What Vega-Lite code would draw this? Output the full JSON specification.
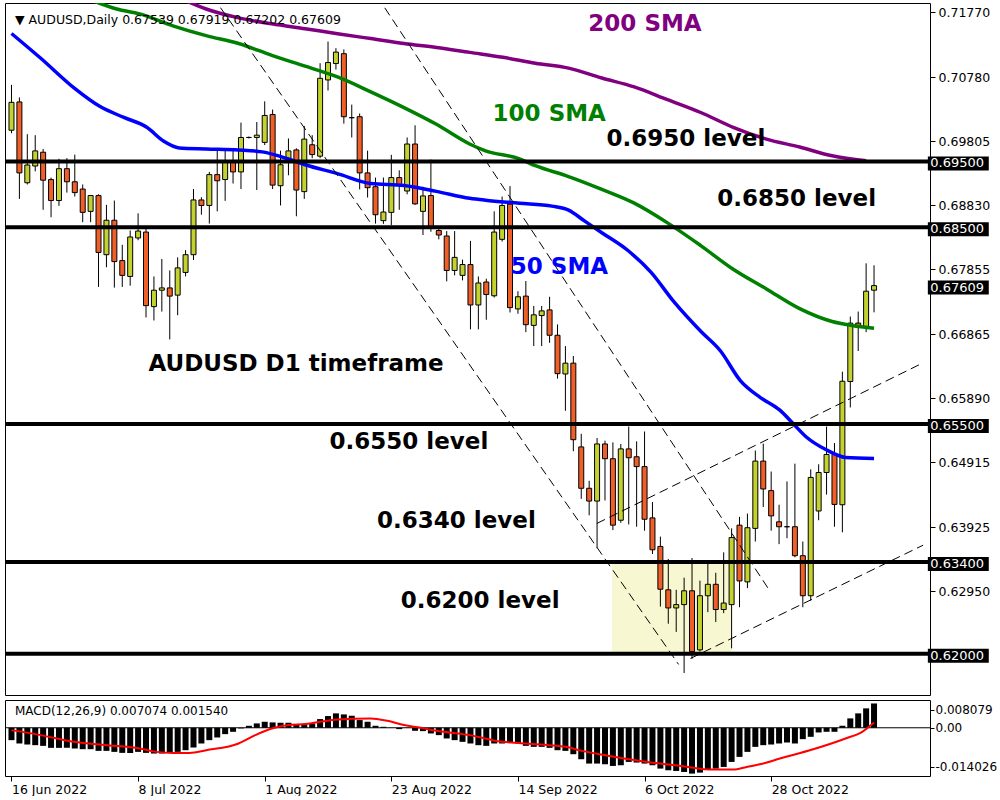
{
  "$schema": "https://vega.github.io/schema/vega-lite/v6.json",
  "background": "white",
  "padding": {"left": 2, "top": 2, "right": 0, "bottom": 0},
  "spacing": 3,
  "config": {
    "view": {"stroke": "#000000", "strokeWidth": 1},
    "axis": {"labelFont": "DejaVu Sans", "labelFontSize": 12.5, "labelColor": "#000000", "tickColor": "#000000", "domain": false, "grid": false, "tickSize": 5, "labelPadding": 3},
    "text": {"font": "DejaVu Sans"}
  },
  "datasets": {
    "candles": [
      {"i":0,"o":0.69976,"h":0.70667,"l":0.6993,"c":0.70401},
      {"i":1,"o":0.70407,"h":0.70476,"l":0.6893,"c":0.69326},
      {"i":2,"o":0.69176,"h":0.69916,"l":0.6915,"c":0.69446},
      {"i":3,"o":0.69431,"h":0.69901,"l":0.6935,"c":0.69661},
      {"i":4,"o":0.69641,"h":0.69691,"l":0.68764,"c":0.69215},
      {"i":5,"o":0.69225,"h":0.69255,"l":0.6865,"c":0.68905},
      {"i":6,"o":0.68905,"h":0.69541,"l":0.68824,"c":0.6939},
      {"i":7,"o":0.6939,"h":0.69551,"l":0.69026,"c":0.69191},
      {"i":8,"o":0.69191,"h":0.69605,"l":0.68966,"c":0.69026},
      {"i":9,"o":0.6908,"h":0.6915,"l":0.68575,"c":0.68725},
      {"i":10,"o":0.6874,"h":0.6899,"l":0.68575,"c":0.68981},
      {"i":11,"o":0.68981,"h":0.69,"l":0.67589,"c":0.68114},
      {"i":12,"o":0.6808,"h":0.68839,"l":0.67889,"c":0.68605},
      {"i":13,"o":0.68605,"h":0.68905,"l":0.67578,"c":0.67975},
      {"i":14,"o":0.6799,"h":0.6823,"l":0.67589,"c":0.67765},
      {"i":15,"o":0.67749,"h":0.68449,"l":0.67608,"c":0.6835},
      {"i":16,"o":0.68335,"h":0.6871,"l":0.683,"c":0.6844},
      {"i":17,"o":0.68425,"h":0.68515,"l":0.67124,"c":0.67304},
      {"i":18,"o":0.67289,"h":0.67749,"l":0.67078,"c":0.67539},
      {"i":19,"o":0.67539,"h":0.68014,"l":0.67214,"c":0.67574},
      {"i":20,"o":0.67574,"h":0.6784,"l":0.66789,"c":0.67449},
      {"i":21,"o":0.67464,"h":0.68039,"l":0.67158,"c":0.67879},
      {"i":22,"o":0.6781,"h":0.6815,"l":0.6775,"c":0.6808},
      {"i":23,"o":0.6808,"h":0.6908,"l":0.67999,"c":0.68914},
      {"i":24,"o":0.68914,"h":0.68956,"l":0.68689,"c":0.6883},
      {"i":25,"o":0.6883,"h":0.69341,"l":0.68554,"c":0.693},
      {"i":26,"o":0.693,"h":0.69665,"l":0.6874,"c":0.69206},
      {"i":27,"o":0.69225,"h":0.69665,"l":0.689,"c":0.69515},
      {"i":28,"o":0.69515,"h":0.69665,"l":0.69165,"c":0.69341},
      {"i":29,"o":0.69341,"h":0.70092,"l":0.6908,"c":0.69866},
      {"i":30,"o":0.69866,"h":0.6988,"l":0.6985,"c":0.69866},
      {"i":31,"o":0.69866,"h":0.70101,"l":0.69065,"c":0.69901},
      {"i":32,"o":0.69791,"h":0.70416,"l":0.6975,"c":0.70201},
      {"i":33,"o":0.70216,"h":0.70291,"l":0.6908,"c":0.6914},
      {"i":34,"o":0.69131,"h":0.69665,"l":0.6883,"c":0.6945},
      {"i":35,"o":0.69515,"h":0.69851,"l":0.6929,"c":0.69661},
      {"i":36,"o":0.69676,"h":0.69701,"l":0.68665,"c":0.69065},
      {"i":37,"o":0.69041,"h":0.7004,"l":0.6893,"c":0.69841},
      {"i":38,"o":0.69755,"h":0.69901,"l":0.6955,"c":0.69605},
      {"i":39,"o":0.69581,"h":0.70997,"l":0.6955,"c":0.70767},
      {"i":40,"o":0.70742,"h":0.71327,"l":0.70581,"c":0.71007},
      {"i":41,"o":0.70992,"h":0.71226,"l":0.709,"c":0.71166},
      {"i":42,"o":0.71142,"h":0.71207,"l":0.70077,"c":0.70182},
      {"i":43,"o":0.70167,"h":0.70366,"l":0.69866,"c":0.70167},
      {"i":44,"o":0.70182,"h":0.70231,"l":0.69075,"c":0.69326},
      {"i":45,"o":0.69326,"h":0.69665,"l":0.68951,"c":0.69101},
      {"i":46,"o":0.69116,"h":0.69255,"l":0.68554,"c":0.68689},
      {"i":47,"o":0.68599,"h":0.69255,"l":0.6855,"c":0.6873},
      {"i":48,"o":0.68725,"h":0.69601,"l":0.6853,"c":0.69255},
      {"i":49,"o":0.69255,"h":0.69365,"l":0.68764,"c":0.6914},
      {"i":50,"o":0.6905,"h":0.69866,"l":0.69,"c":0.69766},
      {"i":51,"o":0.69766,"h":0.70051,"l":0.68839,"c":0.68854},
      {"i":52,"o":0.6874,"h":0.69116,"l":0.6838,"c":0.68975},
      {"i":53,"o":0.68981,"h":0.6953,"l":0.6843,"c":0.68479},
      {"i":54,"o":0.68449,"h":0.68479,"l":0.68314,"c":0.6838},
      {"i":55,"o":0.68365,"h":0.6844,"l":0.67674,"c":0.6784},
      {"i":56,"o":0.6784,"h":0.6844,"l":0.67765,"c":0.68039},
      {"i":57,"o":0.67765,"h":0.68005,"l":0.67689,"c":0.6793},
      {"i":58,"o":0.6793,"h":0.6829,"l":0.66943,"c":0.67314},
      {"i":59,"o":0.67314,"h":0.67749,"l":0.66943,"c":0.67649},
      {"i":60,"o":0.67664,"h":0.67714,"l":0.67089,"c":0.67473},
      {"i":61,"o":0.67454,"h":0.6874,"l":0.67428,"c":0.68425},
      {"i":62,"o":0.68314,"h":0.68966,"l":0.6828,"c":0.6883},
      {"i":63,"o":0.6885,"h":0.69125,"l":0.672,"c":0.67274},
      {"i":64,"o":0.67254,"h":0.67524,"l":0.6718,"c":0.67439},
      {"i":65,"o":0.67449,"h":0.67679,"l":0.669,"c":0.67014},
      {"i":66,"o":0.67003,"h":0.67299,"l":0.66688,"c":0.67164},
      {"i":67,"o":0.67153,"h":0.67299,"l":0.66688,"c":0.67224},
      {"i":68,"o":0.67239,"h":0.67439,"l":0.66738,"c":0.66853},
      {"i":69,"o":0.66853,"h":0.67018,"l":0.66193,"c":0.66268},
      {"i":70,"o":0.66263,"h":0.66688,"l":0.65702,"c":0.66428},
      {"i":71,"o":0.66428,"h":0.66538,"l":0.65086,"c":0.65262},
      {"i":72,"o":0.65152,"h":0.65352,"l":0.64361,"c":0.64522},
      {"i":73,"o":0.64522,"h":0.64636,"l":0.6411,"c":0.64327},
      {"i":74,"o":0.64327,"h":0.65287,"l":0.6361,"c":0.65197},
      {"i":75,"o":0.65197,"h":0.65247,"l":0.64336,"c":0.64972},
      {"i":76,"o":0.64972,"h":0.65221,"l":0.63885,"c":0.6396},
      {"i":77,"o":0.64035,"h":0.65197,"l":0.63996,"c":0.65122},
      {"i":78,"o":0.65122,"h":0.65462,"l":0.63971,"c":0.64987},
      {"i":79,"o":0.65002,"h":0.65236,"l":0.63936,"c":0.64852},
      {"i":80,"o":0.64852,"h":0.65387,"l":0.63876,"c":0.6405},
      {"i":81,"o":0.64071,"h":0.64312,"l":0.6352,"c":0.63585},
      {"i":82,"o":0.63636,"h":0.63786,"l":0.6272,"c":0.62984},
      {"i":83,"o":0.62975,"h":0.63445,"l":0.62459,"c":0.62699},
      {"i":84,"o":0.62699,"h":0.62975,"l":0.62334,"c":0.6275},
      {"i":85,"o":0.6275,"h":0.6316,"l":0.61708,"c":0.6296},
      {"i":86,"o":0.6296,"h":0.6346,"l":0.61924,"c":0.62034},
      {"i":87,"o":0.6206,"h":0.63115,"l":0.62034,"c":0.62885},
      {"i":88,"o":0.62885,"h":0.63375,"l":0.62635,"c":0.63059},
      {"i":89,"o":0.63059,"h":0.63235,"l":0.62485,"c":0.62675},
      {"i":90,"o":0.62675,"h":0.63546,"l":0.6262,"c":0.62774},
      {"i":91,"o":0.6275,"h":0.63911,"l":0.62084,"c":0.63771},
      {"i":92,"o":0.6396,"h":0.64086,"l":0.6271,"c":0.6311},
      {"i":93,"o":0.63096,"h":0.64136,"l":0.63,"c":0.63921},
      {"i":94,"o":0.63911,"h":0.65097,"l":0.63711,"c":0.64936},
      {"i":95,"o":0.64936,"h":0.65202,"l":0.64236,"c":0.64511},
      {"i":96,"o":0.64486,"h":0.64777,"l":0.63876,"c":0.64101},
      {"i":97,"o":0.64011,"h":0.64271,"l":0.63671,"c":0.63936},
      {"i":98,"o":0.63936,"h":0.64627,"l":0.63761,"c":0.63936},
      {"i":99,"o":0.63936,"h":0.64897,"l":0.6347,"c":0.63495},
      {"i":100,"o":0.63495,"h":0.63711,"l":0.6271,"c":0.62885},
      {"i":101,"o":0.62885,"h":0.64811,"l":0.6281,"c":0.64687},
      {"i":102,"o":0.64176,"h":0.64887,"l":0.64035,"c":0.64762},
      {"i":103,"o":0.64762,"h":0.65462,"l":0.64426,"c":0.65037},
      {"i":104,"o":0.65037,"h":0.65212,"l":0.63936,"c":0.64276},
      {"i":105,"o":0.64271,"h":0.66298,"l":0.63851,"c":0.66152},
      {"i":106,"o":0.66148,"h":0.67138,"l":0.65753,"c":0.67038},
      {"i":107,"o":0.67038,"h":0.67214,"l":0.66613,"c":0.66988},
      {"i":108,"o":0.66988,"h":0.67949,"l":0.669,"c":0.67524},
      {"i":109,"o":0.67539,"h":0.67919,"l":0.67202,"c":0.67609}
    ],
    "ma": [
      {"ma":"50 SMA","i":0,"p":0.7145},{"ma":"50 SMA","i":3.7,"p":0.71072},{"ma":"50 SMA","i":7.9,"p":0.70621},{"ma":"50 SMA","i":11.2,"p":0.70336},{"ma":"50 SMA","i":14.2,"p":0.70171},{"ma":"50 SMA","i":17.1,"p":0.70021},{"ma":"50 SMA","i":19.2,"p":0.69811},{"ma":"50 SMA","i":21.2,"p":0.69706},{"ma":"50 SMA","i":24.6,"p":0.69691},{"ma":"50 SMA","i":28.7,"p":0.69676},{"ma":"50 SMA","i":31.7,"p":0.69646},{"ma":"50 SMA","i":34.9,"p":0.69541},{"ma":"50 SMA","i":37.1,"p":0.6945},{"ma":"50 SMA","i":41.2,"p":0.69315},{"ma":"50 SMA","i":45.4,"p":0.69165},{"ma":"50 SMA","i":49.6,"p":0.69135},{"ma":"50 SMA","i":53.7,"p":0.69045},{"ma":"50 SMA","i":57.9,"p":0.6894},{"ma":"50 SMA","i":59.9,"p":0.6891},{"ma":"50 SMA","i":64.2,"p":0.68865},{"ma":"50 SMA","i":68.3,"p":0.6882},{"ma":"50 SMA","i":70.4,"p":0.6876},{"ma":"50 SMA","i":72.4,"p":0.68595},{"ma":"50 SMA","i":74.6,"p":0.68415},{"ma":"50 SMA","i":77.9,"p":0.68144},{"ma":"50 SMA","i":80.8,"p":0.67814},{"ma":"50 SMA","i":83.7,"p":0.67364},{"ma":"50 SMA","i":87.1,"p":0.66913},{"ma":"50 SMA","i":89.6,"p":0.66613},{"ma":"50 SMA","i":92.1,"p":0.66163},{"ma":"50 SMA","i":94.6,"p":0.65908},{"ma":"50 SMA","i":97.1,"p":0.65712},{"ma":"50 SMA","i":98.7,"p":0.65517},{"ma":"50 SMA","i":100.4,"p":0.65307},{"ma":"50 SMA","i":102.9,"p":0.65112},{"ma":"50 SMA","i":105.4,"p":0.64992},{"ma":"50 SMA","i":109,"p":0.64977},
      {"ma":"100 SMA","i":10,"p":0.7196},{"ma":"100 SMA","i":13.3,"p":0.71823},{"ma":"100 SMA","i":16.2,"p":0.71748},{"ma":"100 SMA","i":20.4,"p":0.71567},{"ma":"100 SMA","i":24.6,"p":0.71417},{"ma":"100 SMA","i":28.7,"p":0.71297},{"ma":"100 SMA","i":32.9,"p":0.71117},{"ma":"100 SMA","i":37.1,"p":0.70952},{"ma":"100 SMA","i":41.2,"p":0.70787},{"ma":"100 SMA","i":45.4,"p":0.70561},{"ma":"100 SMA","i":49.6,"p":0.70321},{"ma":"100 SMA","i":53.7,"p":0.70066},{"ma":"100 SMA","i":57.9,"p":0.69766},{"ma":"100 SMA","i":59.9,"p":0.69661},{"ma":"100 SMA","i":64.2,"p":0.69541},{"ma":"100 SMA","i":66.2,"p":0.69436},{"ma":"100 SMA","i":70.4,"p":0.6927},{"ma":"100 SMA","i":74.6,"p":0.69075},{"ma":"100 SMA","i":78.7,"p":0.68865},{"ma":"100 SMA","i":82.9,"p":0.68565},{"ma":"100 SMA","i":87.1,"p":0.68219},{"ma":"100 SMA","i":91.2,"p":0.67859},{"ma":"100 SMA","i":95.4,"p":0.67559},{"ma":"100 SMA","i":99.6,"p":0.67259},{"ma":"100 SMA","i":103.7,"p":0.67063},{"ma":"100 SMA","i":106.2,"p":0.67003},{"ma":"100 SMA","i":109,"p":0.6696},
      {"ma":"200 SMA","i":22,"p":0.7195},{"ma":"200 SMA","i":24.6,"p":0.71823},{"ma":"200 SMA","i":28.7,"p":0.71688},{"ma":"200 SMA","i":32.9,"p":0.71597},{"ma":"200 SMA","i":37.1,"p":0.71522},{"ma":"200 SMA","i":41.2,"p":0.71447},{"ma":"200 SMA","i":45.4,"p":0.71372},{"ma":"200 SMA","i":49.6,"p":0.71297},{"ma":"200 SMA","i":53.7,"p":0.71237},{"ma":"200 SMA","i":57.9,"p":0.71162},{"ma":"200 SMA","i":62.1,"p":0.71087},{"ma":"200 SMA","i":66.2,"p":0.70997},{"ma":"200 SMA","i":70.4,"p":0.70922},{"ma":"200 SMA","i":74.6,"p":0.70772},{"ma":"200 SMA","i":78.7,"p":0.70636},{"ma":"200 SMA","i":82.9,"p":0.70441},{"ma":"200 SMA","i":87.1,"p":0.70246},{"ma":"200 SMA","i":91.2,"p":0.70021},{"ma":"200 SMA","i":95.4,"p":0.69841},{"ma":"200 SMA","i":99.6,"p":0.69721},{"ma":"200 SMA","i":103.7,"p":0.69586},{"ma":"200 SMA","i":108,"p":0.69511}
    ],
    "trend": [
      {"id":"A","i":25.4,"p":0.72018},{"id":"A","i":84.3,"p":0.61839},
      {"id":"B","i":46.2,"p":0.72018},{"id":"B","i":95.8,"p":0.62965},
      {"id":"C","i":73.97,"p":0.63986},{"id":"C","i":115.2,"p":0.66433},
      {"id":"D","i":85.8,"p":0.61929},{"id":"D","i":115.2,"p":0.63655}
    ],
    "levels": [{"p":0.695},{"p":0.685},{"p":0.655},{"p":0.634},{"p":0.62}],
    "boxes": [{"p":0.695},{"p":0.685},{"p":0.67609},{"p":0.655},{"p":0.634},{"p":0.62}],
    "notes": [
      {"t":"200 SMA","i":72.9,"p":0.71597,"g":"200 SMA"},
      {"t":"100 SMA","i":60.8,"p":0.70216,"g":"100 SMA"},
      {"t":"0.6950 level","i":75.2,"p":0.69841,"g":"note"},
      {"t":"0.6850 level","i":89.2,"p":0.68925,"g":"note"},
      {"t":"50 SMA","i":63.1,"p":0.67889,"g":"50 SMA"},
      {"t":"AUDUSD D1 timeframe","i":17.3,"p":0.66418,"g":"note"},
      {"t":"0.6550 level","i":40.2,"p":0.65232,"g":"note"},
      {"t":"0.6340 level","i":46.2,"p":0.64031,"g":"note"},
      {"t":"0.6200 level","i":49.2,"p":0.628,"g":"note"}
    ],
    "macd": [
      {"i":0,"m":-0.0036},{"i":1,"m":-0.00457},{"i":2,"m":-0.00487},{"i":3,"m":-0.00506},{"i":4,"m":-0.00526},{"i":5,"m":-0.00584},{"i":6,"m":-0.00584},{"i":7,"m":-0.00584},{"i":8,"m":-0.00603},{"i":9,"m":-0.00623},
      {"i":10,"m":-0.00623},{"i":11,"m":-0.00672},{"i":12,"m":-0.00672},{"i":13,"m":-0.00701},{"i":14,"m":-0.0073},{"i":15,"m":-0.0073},{"i":16,"m":-0.00701},{"i":17,"m":-0.0073},{"i":18,"m":-0.00749},{"i":19,"m":-0.00749},
      {"i":20,"m":-0.0073},{"i":21,"m":-0.00701},{"i":22,"m":-0.00652},{"i":23,"m":-0.00574},{"i":24,"m":-0.00457},{"i":25,"m":-0.0036},{"i":26,"m":-0.00282},{"i":27,"m":-0.00185},{"i":28,"m":-0.00117},{"i":29,"m":-0.00019},
      {"i":30,"m":0.00058},{"i":31,"m":0.00127},{"i":32,"m":0.00175},{"i":33,"m":0.00156},{"i":34,"m":0.00146},{"i":35,"m":0.00146},{"i":36,"m":0.00097},{"i":37,"m":0.00097},{"i":38,"m":0.00127},{"i":39,"m":0.00253},
      {"i":40,"m":0.00341},{"i":41,"m":0.00419},{"i":42,"m":0.00389},{"i":43,"m":0.0035},{"i":44,"m":0.00224},{"i":45,"m":0.00175},{"i":46,"m":0.00058},{"i":47,"m":0.00029},{"i":48,"m":0.00005},{"i":49,"m":-0.00039},
      {"i":50,"m":0.00005},{"i":51,"m":-0.00088},{"i":52,"m":-0.00097},{"i":53,"m":-0.00165},{"i":54,"m":-0.00214},{"i":55,"m":-0.00311},{"i":56,"m":-0.0036},{"i":57,"m":-0.00409},{"i":58,"m":-0.00457},{"i":59,"m":-0.00506},
      {"i":60,"m":-0.00526},{"i":61,"m":-0.00457},{"i":62,"m":-0.00457},{"i":63,"m":-0.00438},{"i":64,"m":-0.00457},{"i":65,"m":-0.00526},{"i":66,"m":-0.00555},{"i":67,"m":-0.00555},{"i":68,"m":-0.00584},{"i":69,"m":-0.00652},
      {"i":70,"m":-0.00672},{"i":71,"m":-0.00769},{"i":72,"m":-0.00915},{"i":73,"m":-0.01041},{"i":74,"m":-0.01041},{"i":75,"m":-0.01061},{"i":76,"m":-0.0111},{"i":77,"m":-0.0109},{"i":78,"m":-0.00993},{"i":79,"m":-0.01012},
      {"i":80,"m":-0.01041},{"i":81,"m":-0.0109},{"i":82,"m":-0.01187},{"i":83,"m":-0.01236},{"i":84,"m":-0.01256},{"i":85,"m":-0.01285},{"i":86,"m":-0.01333},{"i":87,"m":-0.01304},{"i":88,"m":-0.01207},{"i":89,"m":-0.01187},
      {"i":90,"m":-0.01139},{"i":91,"m":-0.00993},{"i":92,"m":-0.00847},{"i":93,"m":-0.00701},{"i":94,"m":-0.00555},{"i":95,"m":-0.00506},{"i":96,"m":-0.00487},{"i":97,"m":-0.00457},{"i":98,"m":-0.00428},{"i":99,"m":-0.00457},
      {"i":100,"m":-0.00331},{"i":101,"m":-0.00263},{"i":102,"m":-0.00136},{"i":103,"m":-0.00117},{"i":104,"m":-0.00117},{"i":105,"m":0.00058},{"i":106,"m":0.00273},{"i":107,"m":0.00419},{"i":108,"m":0.00565},{"i":109,"m":0.007074}
    ],
    "signal": [
      {"i":0,"s":-0.00068},{"i":3.7,"s":-0.00214},{"i":7.9,"s":-0.00409},{"i":12.1,"s":-0.00506},{"i":16.2,"s":-0.00603},{"i":18.3,"s":-0.00701},{"i":20.4,"s":-0.0073},{"i":22.5,"s":-0.0073},{"i":24.6,"s":-0.00652},{"i":28.7,"s":-0.00457},{"i":30.8,"s":-0.00214},{"i":32.9,"s":-0.00019},{"i":35,"s":0.00078},{"i":37.1,"s":0.00107},{"i":41.2,"s":0.00243},{"i":45.4,"s":0.00273},{"i":47.5,"s":0.00204},{"i":49.6,"s":0.00078},{"i":51.7,"s":0},{"i":53.7,"s":-0.00088},{"i":57.9,"s":-0.00214},{"i":62.1,"s":-0.00409},{"i":63.7,"s":-0.00438},{"i":67.9,"s":-0.00506},{"i":70,"s":-0.00555},{"i":72.1,"s":-0.00672},{"i":76.3,"s":-0.00847},{"i":80.4,"s":-0.00993},{"i":84.6,"s":-0.0111},{"i":88.7,"s":-0.01217},{"i":91.2,"s":-0.01217},{"i":92.9,"s":-0.01139},{"i":95,"s":-0.01041},{"i":97.1,"s":-0.00895},{"i":101.2,"s":-0.00633},{"i":105.4,"s":-0.00311},{"i":107.5,"s":-0.00117},{"i":109,"s":0.00154}
    ]
  },
  "vconcat": [
    {
      "width": 925,
      "height": 692,
      "layer": [
        {
          "data": {"values": [{"i":75.9,"i2":91.0,"p":0.634,"p2":0.62}]},
          "mark": {"type": "rect", "color": "#f7f7d2"},
          "encoding": {
            "x": {"field": "i", "type": "quantitative", "title": null, "scale": {"domain": [-0.1875, 115.44], "nice": false, "zero": false}, "axis": null},
            "x2": {"field": "i2"},
            "y": {"field": "p", "type": "quantitative", "title": null, "scale": {"domain": [0.61449, 0.71838], "nice": false, "zero": false},
                  "axis": {"orient": "right", "values": [0.7177, 0.7078, 0.69805, 0.6883, 0.67855, 0.66865, 0.6589, 0.64915, 0.63925, 0.6295], "format": ".5f", "labelAlign": "left", "labelBaseline": "middle"}},
            "y2": {"field": "p2"}
          }
        },
        {
          "data": {"name": "candles"},
          "mark": {"type": "rule", "color": "#000000", "strokeWidth": 1},
          "encoding": {
            "x": {"field": "i", "type": "quantitative", "title": null, "scale": {"domain": [-0.1875, 115.44], "nice": false, "zero": false}, "axis": null},
            "y": {"field": "l", "type": "quantitative", "title": null, "scale": {"domain": [0.61449, 0.71838], "nice": false, "zero": false},
                  "axis": {"orient": "right", "values": [0.7177, 0.7078, 0.69805, 0.6883, 0.67855, 0.66865, 0.6589, 0.64915, 0.63925, 0.6295], "format": ".5f", "labelAlign": "left", "labelBaseline": "middle"}},
            "y2": {"field": "h"}
          }
        },
        {
          "data": {"name": "candles"},
          "mark": {"type": "bar", "width": 5, "stroke": "#000000", "strokeWidth": 1},
          "encoding": {
            "x": {"field": "i", "type": "quantitative", "title": null, "scale": {"domain": [-0.1875, 115.44], "nice": false, "zero": false}, "axis": null},
            "y": {"field": "o", "type": "quantitative", "title": null, "scale": {"domain": [0.61449, 0.71838], "nice": false, "zero": false},
                  "axis": {"orient": "right", "values": [0.7177, 0.7078, 0.69805, 0.6883, 0.67855, 0.66865, 0.6589, 0.64915, 0.63925, 0.6295], "format": ".5f", "labelAlign": "left", "labelBaseline": "middle"}},
            "y2": {"field": "c"},
            "fill": {"condition": {"test": "datum.c >= datum.o", "value": "#c4d230"}, "value": "#f05f28"}
          }
        },
        {
          "data": {"name": "ma"},
          "mark": {"type": "line", "strokeWidth": 3.5, "clip": true, "interpolate": "monotone"},
          "encoding": {
            "x": {"field": "i", "type": "quantitative", "title": null, "scale": {"domain": [-0.1875, 115.44], "nice": false, "zero": false}, "axis": null},
            "y": {"field": "p", "type": "quantitative", "title": null, "scale": {"domain": [0.61449, 0.71838], "nice": false, "zero": false},
                  "axis": {"orient": "right", "values": [0.7177, 0.7078, 0.69805, 0.6883, 0.67855, 0.66865, 0.6589, 0.64915, 0.63925, 0.6295], "format": ".5f", "labelAlign": "left", "labelBaseline": "middle"}},
            "color": {"field": "ma", "type": "nominal", "scale": {"domain": ["50 SMA", "100 SMA", "200 SMA", "note"], "range": ["#0000ff", "#008000", "#800080", "#000000"]}, "legend": null}
          }
        },
        {
          "data": {"name": "trend"},
          "mark": {"type": "line", "strokeWidth": 1, "strokeDash": [9, 5], "color": "#000000", "clip": true},
          "encoding": {
            "x": {"field": "i", "type": "quantitative", "title": null, "scale": {"domain": [-0.1875, 115.44], "nice": false, "zero": false}, "axis": null},
            "y": {"field": "p", "type": "quantitative", "title": null, "scale": {"domain": [0.61449, 0.71838], "nice": false, "zero": false},
                  "axis": {"orient": "right", "values": [0.7177, 0.7078, 0.69805, 0.6883, 0.67855, 0.66865, 0.6589, 0.64915, 0.63925, 0.6295], "format": ".5f", "labelAlign": "left", "labelBaseline": "middle"}},
            "detail": {"field": "id", "type": "nominal"}
          }
        },
        {
          "data": {"name": "levels"},
          "mark": {"type": "rule", "strokeWidth": 4, "color": "#000000"},
          "encoding": {
            "y": {"field": "p", "type": "quantitative", "title": null, "scale": {"domain": [0.61449, 0.71838], "nice": false, "zero": false},
                  "axis": {"orient": "right", "values": [0.7177, 0.7078, 0.69805, 0.6883, 0.67855, 0.66865, 0.6589, 0.64915, 0.63925, 0.6295], "format": ".5f", "labelAlign": "left", "labelBaseline": "middle"}}
          }
        },
        {
          "data": {"name": "notes"},
          "mark": {"type": "text", "font": "DejaVu Sans", "fontSize": 23, "fontWeight": "bold", "align": "left", "baseline": "middle"},
          "encoding": {
            "x": {"field": "i", "type": "quantitative", "title": null, "scale": {"domain": [-0.1875, 115.44], "nice": false, "zero": false}, "axis": null},
            "y": {"field": "p", "type": "quantitative", "title": null, "scale": {"domain": [0.61449, 0.71838], "nice": false, "zero": false},
                  "axis": {"orient": "right", "values": [0.7177, 0.7078, 0.69805, 0.6883, 0.67855, 0.66865, 0.6589, 0.64915, 0.63925, 0.6295], "format": ".5f", "labelAlign": "left", "labelBaseline": "middle"}},
            "text": {"field": "t"},
            "color": {"field": "g", "type": "nominal", "scale": {"domain": ["50 SMA", "100 SMA", "200 SMA", "note"], "range": ["#0000ff", "#008000", "#800080", "#000000"]}, "legend": null}
          }
        },
        {
          "data": {"values": [{"t": "▼  AUDUSD,Daily  0.67539 0.67919 0.67202 0.67609", "i": 0.44, "p": 0.71657}]},
          "mark": {"type": "text", "font": "DejaVu Sans", "fontSize": 12.5, "align": "left", "baseline": "middle", "color": "#000000"},
          "encoding": {
            "x": {"field": "i", "type": "quantitative", "title": null, "scale": {"domain": [-0.1875, 115.44], "nice": false, "zero": false}, "axis": null},
            "y": {"field": "p", "type": "quantitative", "title": null, "scale": {"domain": [0.61449, 0.71838], "nice": false, "zero": false},
                  "axis": {"orient": "right", "values": [0.7177, 0.7078, 0.69805, 0.6883, 0.67855, 0.66865, 0.6589, 0.64915, 0.63925, 0.6295], "format": ".5f", "labelAlign": "left", "labelBaseline": "middle"}},
            "text": {"field": "t"}
          }
        },
        {
          "data": {"name": "boxes"},
          "mark": {"type": "bar", "orient": "horizontal", "height": 14, "color": "#000000", "yOffset": 2},
          "encoding": {
            "x": {"datum": 115.8, "type": "quantitative", "title": null, "scale": {"domain": [-0.1875, 115.44], "nice": false, "zero": false}, "axis": null},
            "x2": {"datum": 123.5},
            "y": {"field": "p", "type": "quantitative", "title": null, "scale": {"domain": [0.61449, 0.71838], "nice": false, "zero": false},
                  "axis": {"orient": "right", "values": [0.7177, 0.7078, 0.69805, 0.6883, 0.67855, 0.66865, 0.6589, 0.64915, 0.63925, 0.6295], "format": ".5f", "labelAlign": "left", "labelBaseline": "middle"}}
          }
        },
        {
          "data": {"name": "boxes"},
          "mark": {"type": "text", "font": "DejaVu Sans", "fontSize": 13, "align": "left", "baseline": "middle", "color": "#ffffff", "yOffset": 2},
          "encoding": {
            "x": {"datum": 116.1, "type": "quantitative", "title": null, "scale": {"domain": [-0.1875, 115.44], "nice": false, "zero": false}, "axis": null},
            "y": {"field": "p", "type": "quantitative", "title": null, "scale": {"domain": [0.61449, 0.71838], "nice": false, "zero": false},
                  "axis": {"orient": "right", "values": [0.7177, 0.7078, 0.69805, 0.6883, 0.67855, 0.66865, 0.6589, 0.64915, 0.63925, 0.6295], "format": ".5f", "labelAlign": "left", "labelBaseline": "middle"}},
            "text": {"field": "p", "format": ".5f"}
          }
        }
      ]
    },
    {
      "width": 925,
      "height": 76,
      "layer": [
        {
          "data": {"name": "macd"},
          "mark": {"type": "bar", "width": 6, "color": "#000000"},
          "encoding": {
            "x": {"field": "i", "type": "quantitative", "title": null, "scale": {"domain": [-0.1875, 115.44], "nice": false, "zero": false},
                  "axis": {"orient": "bottom", "values": [0, 16, 32, 48, 64, 80, 96], "labelExpr": "['16 Jun 2022','8 Jul 2022','1 Aug 2022','23 Aug 2022','14 Sep 2022','6 Oct 2022','28 Oct 2022'][round(datum.value/16)]", "labelAlign": "left", "labelPadding": 2, "labelOverlap": false, "labelFlush": false}},
            "y": {"field": "m", "type": "quantitative", "title": null, "scale": {"domain": [-0.014026, 0.008079], "nice": false, "zero": false},
                  "axis": {"orient": "right", "values": [0.005247, 0, -0.011281], "labelExpr": "datum.value > 0.001 ? '0.008079' : (datum.value < -0.001 ? '-0.014026' : '0.00')", "labelAlign": "left", "labelBaseline": "middle", "labelFontSize": 12, "labelPadding": 1, "tickSize": 4}},
            "y2": {"datum": 0}
          }
        },
        {
          "data": {"values": [{"v": 0}]},
          "mark": {"type": "rule", "color": "#000000", "strokeWidth": 1},
          "encoding": {
            "y": {"field": "v", "type": "quantitative", "title": null, "scale": {"domain": [-0.014026, 0.008079], "nice": false, "zero": false},
                  "axis": {"orient": "right", "values": [0.005247, 0, -0.011281], "labelExpr": "datum.value > 0.001 ? '0.008079' : (datum.value < -0.001 ? '-0.014026' : '0.00')", "labelAlign": "left", "labelBaseline": "middle", "labelFontSize": 12, "labelPadding": 1, "tickSize": 4}}
          }
        },
        {
          "data": {"name": "signal"},
          "mark": {"type": "line", "color": "#ff0000", "strokeWidth": 2, "interpolate": "monotone"},
          "encoding": {
            "x": {"field": "i", "type": "quantitative", "title": null, "scale": {"domain": [-0.1875, 115.44], "nice": false, "zero": false},
                  "axis": {"orient": "bottom", "values": [0, 16, 32, 48, 64, 80, 96], "labelExpr": "['16 Jun 2022','8 Jul 2022','1 Aug 2022','23 Aug 2022','14 Sep 2022','6 Oct 2022','28 Oct 2022'][round(datum.value/16)]", "labelAlign": "left", "labelPadding": 2, "labelOverlap": false, "labelFlush": false}},
            "y": {"field": "s", "type": "quantitative", "title": null, "scale": {"domain": [-0.014026, 0.008079], "nice": false, "zero": false},
                  "axis": {"orient": "right", "values": [0.005247, 0, -0.011281], "labelExpr": "datum.value > 0.001 ? '0.008079' : (datum.value < -0.001 ? '-0.014026' : '0.00')", "labelAlign": "left", "labelBaseline": "middle", "labelFontSize": 12, "labelPadding": 1, "tickSize": 4}}
          }
        },
        {
          "data": {"values": [{"t": "MACD(12,26,9) 0.007074 0.001540", "i": 0.44, "v": 0.004867}]},
          "mark": {"type": "text", "font": "DejaVu Sans", "fontSize": 12, "align": "left", "baseline": "middle", "color": "#000000"},
          "encoding": {
            "x": {"field": "i", "type": "quantitative", "title": null, "scale": {"domain": [-0.1875, 115.44], "nice": false, "zero": false},
                  "axis": {"orient": "bottom", "values": [0, 16, 32, 48, 64, 80, 96], "labelExpr": "['16 Jun 2022','8 Jul 2022','1 Aug 2022','23 Aug 2022','14 Sep 2022','6 Oct 2022','28 Oct 2022'][round(datum.value/16)]", "labelAlign": "left", "labelPadding": 2, "labelOverlap": false, "labelFlush": false}},
            "y": {"field": "v", "type": "quantitative", "title": null, "scale": {"domain": [-0.014026, 0.008079], "nice": false, "zero": false},
                  "axis": {"orient": "right", "values": [0.005247, 0, -0.011281], "labelExpr": "datum.value > 0.001 ? '0.008079' : (datum.value < -0.001 ? '-0.014026' : '0.00')", "labelAlign": "left", "labelBaseline": "middle", "labelFontSize": 12, "labelPadding": 1, "tickSize": 4}},
            "text": {"field": "t"}
          }
        }
      ]
    }
  ]
}
